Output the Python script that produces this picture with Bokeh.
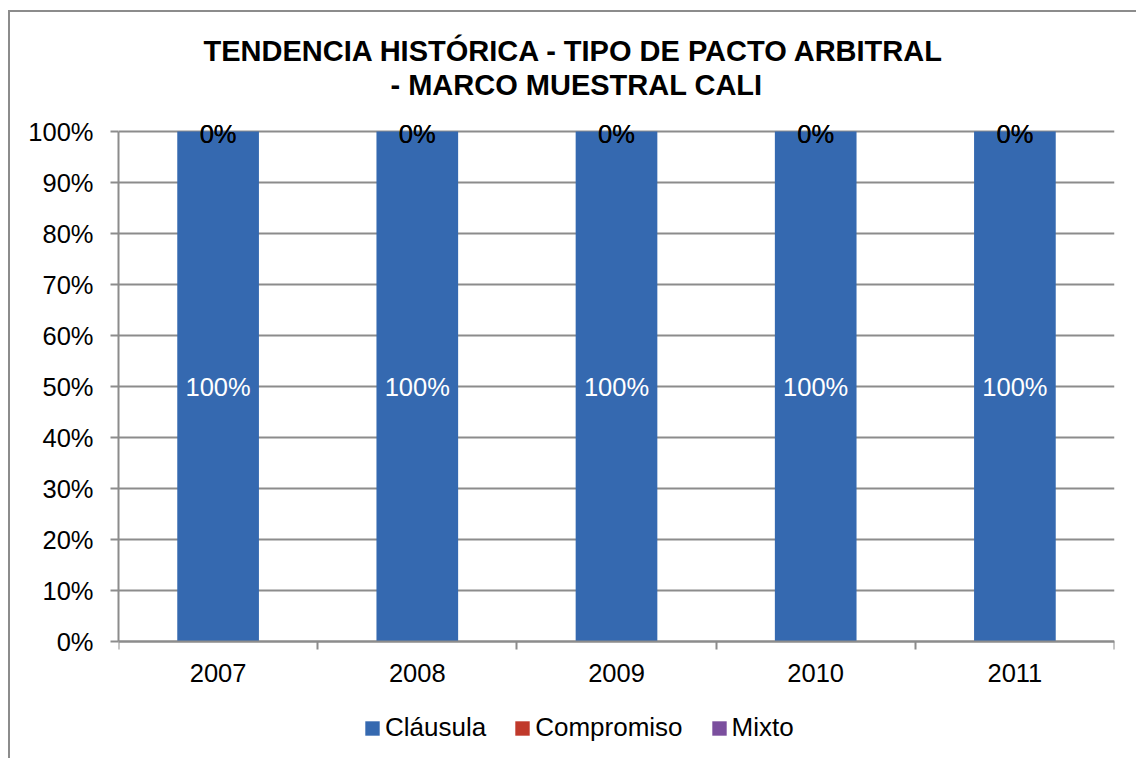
from bokeh.plotting import figure
from bokeh.models import (ColumnDataSource, Range1d, FixedTicker, CustomJSTickFormatter,
                          Legend, LegendItem, Title, LabelSet)
from bokeh.core.properties import value
from bokeh.embed import file_html
from bokeh.resources import INLINE

# ---- data ----
years = ["2007", "2008", "2009", "2010", "2011"]
clausula = [100, 100, 100, 100, 100]
compromiso = [0, 0, 0, 0, 0]
mixto = [0, 0, 0, 0, 0]
series_names = ["Cláusula", "Compromiso", "Mixto"]
y_ticks = [0, 10, 20, 30, 40, 50, 60, 70, 80, 90, 100]
y_tick_labels = ["0%", "10%", "20%", "30%", "40%", "50%", "60%", "70%", "80%", "90%", "100%"]
title_line1 = "TENDENCIA HISTÓRICA - TIPO DE PACTO ARBITRAL"
title_line2 = "- MARCO MUESTRAL CALI"

colors = ["#3569B0", "#C0392B", "#7B4F9E"]
FONT = "Liberation Sans"
GRAY = "#8c8c8c"
FS = "25.5px"

# frame geometry: 0..100 % spans 510 px; 31 px head room above 100 %,
# 117 px below 0 % (room for the category labels and the legend)
PX_PER_UNIT = 510 / 100
HEAD_PX, FOOT_PX = 31, 117
FRAME_H = 510 + HEAD_PX + FOOT_PX
Y_START = -FOOT_PX / PX_PER_UNIT
Y_END = 100 + HEAD_PX / PX_PER_UNIT

x_pos = [i + 0.5 for i in range(len(years))]
src = ColumnDataSource(dict(
    x=x_pos, clausula=clausula, compromiso=compromiso, mixto=mixto,
    c_mid=[c / 2 for c in clausula],
    p_mid=[c + p / 2 for c, p in zip(clausula, compromiso)],
    m_mid=[c + p + m / 2 for c, p, m in zip(clausula, compromiso, mixto)],
    c_txt=[f"{v}%" for v in clausula],
    p_txt=[f"{v}%" for v in compromiso],
    m_txt=[f"{v}%" for v in mixto],
))

p = figure(x_range=Range1d(0, len(years)), y_range=Range1d(Y_START, Y_END),
           frame_width=996, frame_height=FRAME_H,
           min_border_left=108, min_border_right=22, min_border_top=88, min_border_bottom=0,
           output_backend="svg", toolbar_location=None, title=title_line1)
# chart-area border (only its top and left edges are visible in the reference)
p.styles = {"border-top": f"2px solid {GRAY}", "border-left": f"2px solid {GRAY}",
            "margin-top": "10px", "margin-left": "8px"}
p.outline_line_color = None
p.background_fill_color = "white"
p.border_fill_color = "white"

# titles
p.title.text_font = FONT
p.title.text_font_size = "29px"
p.title.text_font_style = "bold"
p.title.text_color = "black"
p.title.align = "left"
p.title.offset = 85
p.title.standoff = 0
t2 = Title(text=title_line2, text_font=FONT, text_font_size="29px", text_font_style="bold",
           text_color="black", align="left", offset=272, standoff=0)
p.add_layout(t2, "above")

# bars
rs = p.vbar_stack(["clausula", "compromiso", "mixto"], x="x", width=0.41, source=src,
                  fill_color=colors, line_color=None)

# data labels
p.add_layout(LabelSet(x="x", y="c_mid", text="c_txt", source=src, text_align="center",
                      text_baseline="middle", text_color="white", text_font=value(FONT),
                      text_font_size=FS))
p.add_layout(LabelSet(x="x", y="p_mid", text="p_txt", source=src, text_align="center",
                      text_baseline="middle", text_color="black", text_font=value(FONT),
                      text_font_size=FS, y_offset=-2))
p.add_layout(LabelSet(x="x", y="m_mid", text="m_txt", source=src, text_align="center",
                      text_baseline="middle", text_color="black", text_font=value(FONT),
                      text_font_size=FS, y_offset=-2))

# y axis
ya = p.yaxis[0]
ya.bounds = (0, 100)
ya.ticker = FixedTicker(ticks=y_ticks, minor_ticks=[])
ya.formatter = CustomJSTickFormatter(args=dict(tick_vals=y_ticks, tick_labels=y_tick_labels),
                                     code="return tick_labels[tick_vals.indexOf(tick)];")
ya.axis_line_color = GRAY
ya.axis_line_width = 2
ya.major_tick_line_color = GRAY
ya.major_tick_line_width = 2
ya.major_tick_in = 0
ya.major_tick_out = 8
ya.minor_tick_line_color = None
ya.major_label_standoff = 17
ya.major_label_text_font = FONT
ya.major_label_text_font_size = FS
ya.major_label_text_color = "black"

# x axis, pinned at 0 %
xa = p.xaxis[0]
xa.fixed_location = 0
xa.ticker = FixedTicker(ticks=x_pos, minor_ticks=list(range(len(years) + 1)))
xa.formatter = CustomJSTickFormatter(args=dict(cat_labels=years),
                                     code="return cat_labels[Math.floor(tick)];")
xa.axis_line_color = GRAY
xa.axis_line_width = 2
xa.major_tick_line_color = None
xa.major_tick_in = 0
xa.major_tick_out = 8
xa.minor_tick_line_color = GRAY
xa.minor_tick_line_width = 2
xa.minor_tick_in = 0
xa.minor_tick_out = 8
xa.major_label_standoff = 14
xa.major_label_text_font = FONT
xa.major_label_text_font_size = FS
xa.major_label_text_color = "black"

# grid
p.xgrid.visible = False
p.ygrid.ticker = FixedTicker(ticks=y_ticks, minor_ticks=[])
p.ygrid.grid_line_color = GRAY
p.ygrid.grid_line_width = 2

# legend (inside the frame's lower strip, measured from the frame's bottom-left corner)
legend = Legend(items=[LegendItem(label=n, renderers=[r]) for n, r in zip(series_names, rs)],
                orientation="horizontal", location=(245, 15),
                glyph_width=18, glyph_height=18, label_standoff=4, spacing=27,
                padding=0, margin=0, border_line_color=None, background_fill_alpha=0,
                label_text_font=FONT, label_text_font_size="26px", label_text_color="black")
p.add_layout(legend, "center")

open("out.html", "w").write(file_html(p, INLINE))
